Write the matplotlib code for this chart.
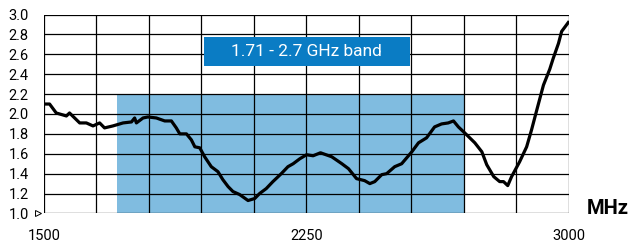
import matplotlib
matplotlib.use("Agg")
import matplotlib.pyplot as plt
from matplotlib.patches import Rectangle
import matplotlib.transforms as mtransforms

plt.rcParams['font.family'] = ['Roboto', 'DejaVu Sans']

freq_mhz = [1500, 1516, 1535, 1564, 1573, 1602, 1621, 1640, 1659, 1673, 1697, 1726, 1750, 1759,
            1764, 1783, 1797, 1821, 1845, 1864, 1878, 1888, 1907, 1921, 1931, 1945, 1959, 1978,
            1997, 2011, 2026, 2040, 2059, 2083, 2102, 2116, 2135, 2154, 2178, 2197, 2212, 2231,
            2250, 2269, 2290, 2322, 2351, 2370, 2393, 2416, 2431, 2445, 2465, 2479, 2502, 2522,
            2551, 2570, 2593, 2616, 2636, 2655, 2670, 2684, 2702, 2731, 2751, 2765, 2785, 2802,
            2813, 2825, 2836, 2859, 2879, 2893, 2908, 2927, 2945, 2955, 2970, 2979, 2998]
vswr = [2.10, 2.10, 2.01, 1.98, 2.01, 1.91, 1.91, 1.88, 1.91, 1.86, 1.88, 1.91, 1.92, 1.96,
        1.91, 1.96, 1.97, 1.96, 1.93, 1.93, 1.86, 1.80, 1.80, 1.74, 1.67, 1.66, 1.57, 1.47,
        1.42, 1.34, 1.27, 1.22, 1.19, 1.13, 1.15, 1.20, 1.25, 1.32, 1.40, 1.47, 1.50, 1.55,
        1.59, 1.58, 1.61, 1.57, 1.50, 1.45, 1.35, 1.33, 1.30, 1.32, 1.39, 1.40, 1.47, 1.50,
        1.62, 1.71, 1.76, 1.87, 1.90, 1.91, 1.93, 1.87, 1.81, 1.71, 1.62, 1.49, 1.37, 1.32,
        1.32, 1.28, 1.37, 1.52, 1.67, 1.84, 2.04, 2.29, 2.45, 2.56, 2.71, 2.83, 2.92]

band_start, band_end, band_top = 1710, 2700, 2.2
band_label = "1.71 - 2.7 GHz band"
x_ticks = [1500, 2250, 3000]
y_ticks = [1.0, 1.2, 1.4, 1.6, 1.8, 2.0, 2.2, 2.4, 2.6, 2.8, 3.0]
x_unit = "MHz"

fig = plt.figure(figsize=(6.32, 2.42), dpi=100)
ax = fig.add_axes([0.0696, 0.118, 0.8307, 0.822])
ax.set_xlim(1500, 3000)
ax.set_ylim(1.0, 3.0)

# band shading
ax.add_patch(Rectangle((band_start, 1.0), band_end - band_start, band_top - 1.0,
                       facecolor='#80bce0', edgecolor='none', zorder=0))

# grid
for gx in range(1500, 3001, 150):
    ax.axvline(gx, color='black', lw=0.9, zorder=1)
for gy in y_ticks:
    ax.axhline(gy, color='black', lw=0.9, zorder=1)

ax.plot(freq_mhz, vswr, color='black', lw=2.3, zorder=3, solid_joinstyle='round')

# label box
ax.add_patch(Rectangle((1957, 2.48), 2546 - 1957, 0.29, facecolor='#0a7cc4',
                       edgecolor='none', zorder=4))
ax.text(2251, 2.625, band_label, color='white', fontsize=12.5, ha='center', va='center',
        zorder=5)

for s in ax.spines.values():
    s.set_visible(False)

ax.set_xticks(x_ticks)
ax.set_xticklabels([str(t) for t in x_ticks], fontsize=10.5)
ax.set_yticks(y_ticks)
ax.set_yticklabels([f"{t:.1f}" for t in y_ticks], fontsize=10.5)
ax.tick_params(axis='both', length=0)
ax.tick_params(axis='x', pad=11)
ax.tick_params(axis='y', pad=11)

tri, = ax.plot([1500], [1.0], marker='>', markersize=4, markerfacecolor='white',
               markeredgecolor='black', markeredgewidth=0.7, clip_on=False, zorder=5)
tri.set_transform(ax.transData + mtransforms.ScaledTranslation(-4/72, 0, fig.dpi_scale_trans))

fig.text(0.929, 0.14, x_unit, fontsize=14.5, fontweight='bold', ha='left', va='center')

fig.savefig("out.png", dpi=100)
